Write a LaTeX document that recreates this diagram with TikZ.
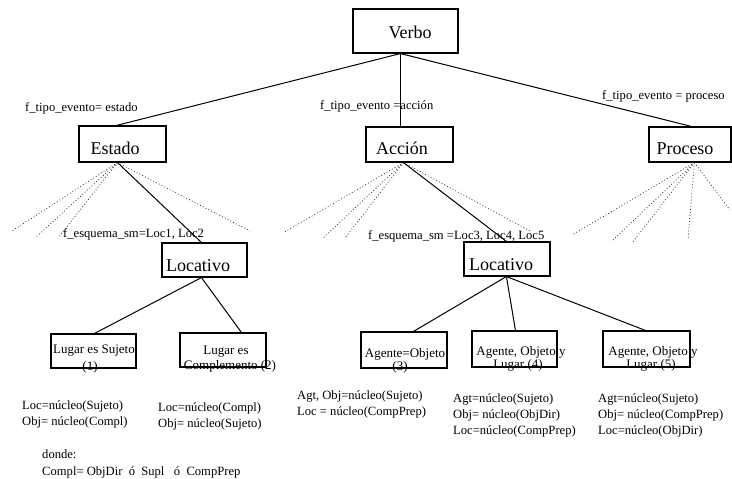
\documentclass[tikz,border=0pt]{standalone}
\usepackage{fontspec}
\setmainfont{Liberation Serif}
\usetikzlibrary{calc}
\begin{document}
\begin{tikzpicture}[x=1pt,y=-1pt,
  box/.style={draw, line width=1.1pt, inner sep=0pt},
  link/.style={line width=1pt},
  dots/.style={line width=0.7pt, dash pattern=on 0.9pt off 2.2pt, black!85},
  bigtxt/.style={font=\fontsize{18}{20}\selectfont, inner sep=0pt, anchor=base},
  boxtxt/.style={font=\fontsize{13}{15}\selectfont, inner sep=0pt, anchor=base},
  lbl/.style={font=\fontsize{12.6}{15}\selectfont, inner sep=0pt, anchor=base west},
  rule/.style={font=\fontsize{12.6}{16.3}\selectfont, inner sep=0pt, anchor=base west, align=left}]
\useasboundingbox (0,0) rectangle (732,479);

% top level
\node[box, minimum width=105pt, minimum height=44pt] (verbo) at (405.5,31) {};
\node[bigtxt] at (410,38) {Verbo};

% event types
\node[box, minimum width=87pt, minimum height=36pt] (estado) at (122.5,144) {};
\node[bigtxt] at (115,154) {Estado};
\node[box, minimum width=87pt, minimum height=35pt] (accion) at (409.5,144.5) {};
\node[bigtxt] at (402,154) {Acción};
\node[box, minimum width=82pt, minimum height=35pt] (proceso) at (690,144.5) {};
\node[bigtxt] at (685,154) {Proceso};

% labels of the event branches
\node[lbl] at (25,111) {f\_tipo\_evento= estado};
\node[lbl] at (320,109) {f\_tipo\_evento =acción};
\node[lbl] at (602,99) {f\_tipo\_evento = proceso};

\draw[link] ([xshift=48pt]verbo.south west) -- ([xshift=38pt]estado.north west);
\draw[link] ([xshift=48pt]verbo.south west) -- ([xshift=35pt]accion.north west);
\draw[link] ([xshift=48pt]verbo.south west) -- ([xshift=43pt]proceso.north west);

% locative nodes
\node[box, minimum width=85pt, minimum height=34pt] (loc1) at (204.5,260) {};
\node[bigtxt] at (198,271) {Locativo};
\node[box, minimum width=86pt, minimum height=34pt] (loc2) at (507,259) {};
\node[bigtxt] at (501,270) {Locativo};

\node[lbl] at (63,237) {f\_esquema\_sm=Loc1, Loc2};
\node[lbl] at (368,239) {f\_esquema\_sm =Loc3, Loc4, Loc5};

% dotted fans (other schemes)
\coordinate (ea) at ([xshift=39pt]estado.south west);
\coordinate (e1) at (12,231);
\coordinate (e2) at (35,238);
\coordinate (e3) at (58,238);
\coordinate (e4) at (250,231);
\foreach \p in {e1,e2,e3,e4} \draw[dots] (ea) -- (\p);

\coordinate (aa) at ([xshift=38pt]accion.south west);
\coordinate (a1) at (283,233);
\coordinate (a2) at (323,238);
\coordinate (a3) at (345,238);
\coordinate (a4) at (530,231);
\foreach \p in {a1,a2,a3,a4} \draw[dots] (aa) -- (\p);

\coordinate (pa) at ([xshift=46pt]proceso.south west);
\coordinate (p1) at (572,235);
\coordinate (p2) at (612,241);
\coordinate (p3) at (632,243);
\coordinate (p4) at (688,240);
\coordinate (p5) at (730,210);
\foreach \p in {p1,p2,p3,p4,p5} \draw[dots] (pa) -- (\p);

\draw[link] (ea) -- ([xshift=40pt]loc1.north west);
\draw[link] (aa) -- ([xshift=43pt]loc2.north west);

% leaves under the first locative
\node[box, minimum width=85pt, minimum height=34pt] (b1) at (93.5,351) {};
\node[boxtxt] at (94,353) {Lugar es Sujeto};
\node[boxtxt] at (90,370) {(1)};
\node[box, minimum width=86pt, minimum height=34pt] (b2) at (223,350) {};
\node[boxtxt] at (226,354) {Lugar es};
\node[boxtxt] at (230,369) {Complemento (2)};

\draw[link] ([xshift=40pt]loc1.south west) -- ([xshift=44pt]b1.north west);
\draw[link] ([xshift=40pt]loc1.south west) -- ([xshift=62pt]b2.north west);

% leaves under the second locative
\node[box, minimum width=86pt, minimum height=36pt] (b3) at (404,350) {};
\node[boxtxt] at (405,357) {Agente=Objeto};
\node[boxtxt] at (400,370) {(3)};
\node[box, minimum width=85pt, minimum height=36pt] (b4) at (514.5,349) {};
\node[boxtxt] at (521,355) {Agente, Objeto y};
\node[boxtxt] at (518,368) {Lugar (4)};
\node[box, minimum width=87pt, minimum height=36pt] (b5) at (646.5,349) {};
\node[boxtxt] at (653,355) {Agente, Objeto y};
\node[boxtxt] at (651,368) {Lugar (5)};

\draw[link] ([xshift=43pt]loc2.south west) -- ([xshift=53pt]b3.north west);
\draw[link] ([xshift=43pt]loc2.south west) -- ([xshift=44pt]b4.north west);
\draw[link] ([xshift=43pt]loc2.south west) -- ([xshift=43pt]b5.north west);

% assignment rules (anchored at the baseline of the last line)
\node[rule] at (22,425.3) {Loc=núcleo(Sujeto)\\Obj= núcleo(Compl)};
\node[rule] at (158,427.3) {Loc=núcleo(Compl)\\Obj= núcleo(Sujeto)};
\node[rule] at (297,415.3) {Agt, Obj=núcleo(Sujeto)\\Loc = núcleo(CompPrep)};
\node[rule] at (453,434.6) {Agt=núcleo(Sujeto)\\Obj= núcleo(ObjDir)\\Loc=núcleo(CompPrep)};
\node[rule] at (598,434.6) {Agt=núcleo(Sujeto)\\Obj= núcleo(CompPrep)\\Loc=núcleo(ObjDir)};
\node[rule] at (42,475) {donde:\\Compl= ObjDir\ \ ó\ \ Supl\ \ \ ó\ \ CompPrep};
\end{tikzpicture}
\end{document}
